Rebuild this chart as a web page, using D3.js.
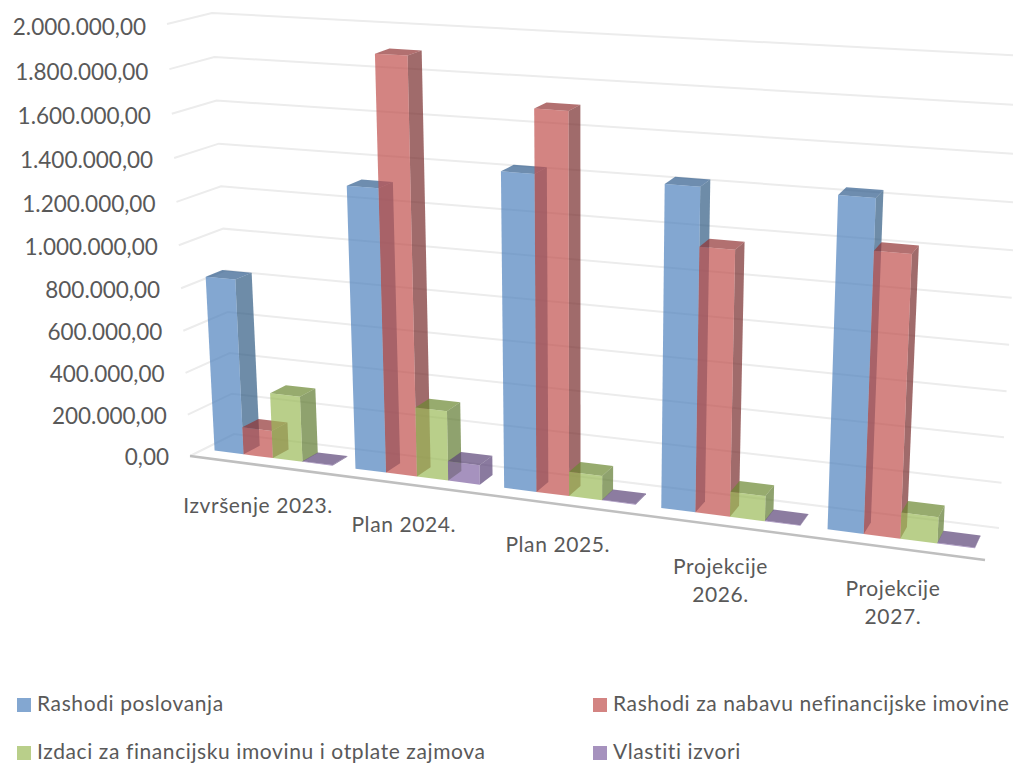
<!DOCTYPE html>
<html>
<head>
<meta charset="utf-8">
<script src="https://cdn.jsdelivr.net/npm/d3@7"></script>
<style>
  body { margin: 0; background: #fff; }
  svg { display: block; }
  text { font-family: Lato, "Open Sans", sans-serif; fill: #595959; }
</style>
</head>
<body>
<svg id="chart" width="1013" height="765"></svg>
<script>
var categories = [["Izvršenje 2023."], ["Plan 2024."], ["Plan 2025."], ["Projekcije", "2026."], ["Projekcije", "2027."]];
var seriesNames = ["Rashodi poslovanja", "Rashodi za nabavu nefinancijske imovine", "Izdaci za financijsku imovinu i otplate zajmova", "Vlastiti izvori"];

var rashodiPoslovanja = [834000, 1312000, 1430000, 1430000, 1440000];
var rashodiNefinancijske = [131000, 1905000, 1712000, 1174000, 1220000];
var izdaciFinancijska = [312000, 325000, 112000, 113000, 115000];
var vlastitiIzvori = [3000, 91000, 3000, 3000, 3000];
var seriesValues = [rashodiPoslovanja, rashodiNefinancijske, izdaciFinancijska, vlastitiIzvori];

var tickValues = [0, 200000, 400000, 600000, 800000, 1000000, 1200000, 1400000, 1600000, 1800000, 2000000];
var tickLabels = ["0,00", "200.000,00", "400.000,00", "600.000,00", "800.000,00", "1.000.000,00", "1.200.000,00", "1.400.000,00", "1.600.000,00", "1.800.000,00", "2.000.000,00"];

// front, side, top colours for each series, all drawn at 70% like the excel fill
var colors = [
  { front: "#4f81bd", side: "#315b83", top: "#315d8d" },
  { front: "#c0504d", side: "#772c2c", top: "#913333" },
  { front: "#9bbb59", side: "#5f7a31", top: "#6b8830" },
  { front: "#8064a2", side: "#594176", top: "#5b4477" }
];
var barOpacity = 0.7;

var svg = d3.select("#chart");

// corners of the 3d box as they land on the page
var box = {
  frontLeft: { bottom: [190, 456], top: [167, 24] },
  frontRight: { bottom: [985, 560], top: [1009, 74] },
  backLeft: { bottom: [234, 434], top: [212, 13] },
  backRight: { bottom: [999, 528], top: [1025, 56] }
};

var x = d3.scaleBand().domain(d3.range(categories.length)).range([0, 1]).paddingInner(0.16).paddingOuter(0.08);
var xSeries = d3.scaleBand().domain(d3.range(seriesNames.length)).range([0, x.bandwidth()]);
var depth = d3.scaleLinear().domain([0, 1]).range([0.31, 0.69]);
var y = d3.scaleLinear().domain([0, 2000000]).range([0, 1]);

var perspectiveX = 1.15;
var perspectiveY = 1.05;

function warp(t, k) {
  return t / (t + k * (1 - t));
}

function project(u, d, value) {
  var w = warp(u, perspectiveX);
  var v = warp(y(value), perspectiveY);
  function corner(c) { return d3.interpolate(c.bottom, c.top)(v); }
  var front = d3.interpolate(corner(box.frontLeft), corner(box.frontRight))(w);
  var back = d3.interpolate(corner(box.backLeft), corner(box.backRight))(w);
  return d3.interpolate(front, back)(d);
}

var line = d3.line();
function poly(points) { return line(points) + "Z"; }

// walls
var grid = svg.append("g");
tickValues.forEach(function(t) {
  grid.append("path")
    .attr("d", line([project(0, 0, t), project(0, 1, t), project(1, 1, t)]))
    .style("fill", "none")
    .style("stroke", "#ececec")
    .style("stroke-width", 2);
});

// floor edge
svg.append("path")
  .attr("d", line([project(0, 0, 0), project(1, 0, 0)]))
  .style("stroke", "#bfbfbf")
  .style("stroke-width", 2.5);

// tick labels
tickValues.forEach(function(t, i) {
  var p = project(0, 0, t);
  svg.append("text")
    .attr("x", p[0] - 21)
    .attr("y", p[1] + 3 + 2 * y(t))
    .attr("text-anchor", "end")
    .attr("dominant-baseline", "middle")
    .style("font-size", "22.5px")
    .text(tickLabels[i]);
});

// bars
var bars = svg.append("g").style("fill-opacity", barOpacity);
categories.forEach(function(c, ci) {
  seriesValues.forEach(function(values, si) {
    var u0 = x(ci) + xSeries(si);
    var u1 = u0 + xSeries.bandwidth();
    var d0 = depth(0), d1 = depth(1);
    var val = values[ci];
    var col = colors[si];

    bars.append("path")
      .attr("d", poly([project(u1, d0, 0), project(u1, d1, 0), project(u1, d1, val), project(u1, d0, val)]))
      .style("fill", col.side);
    bars.append("path")
      .attr("d", poly([project(u0, d0, val), project(u1, d0, val), project(u1, d1, val), project(u0, d1, val)]))
      .style("fill", col.top);
    bars.append("path")
      .attr("d", poly([project(u0, d0, 0), project(u1, d0, 0), project(u1, d0, val), project(u0, d0, val)]))
      .style("fill", col.front);
  });
});

// category labels
categories.forEach(function(c, ci) {
  var p = project(x(ci) + x.bandwidth() / 2, 0, 0);
  var label = svg.append("text")
    .attr("text-anchor", "middle")
    .style("font-size", "21px")
    .style("letter-spacing", "0.6px");
  c.forEach(function(part, i) {
    label.append("tspan")
      .attr("x", p[0] - 2)
      .attr("y", p[1] + 48 + i * 28)
      .text(part);
  });
});

// legend
var legendX = [17, 593, 17, 593];
var legendY = [705, 705, 753, 753];
seriesNames.forEach(function(name, i) {
  svg.append("rect")
    .attr("x", legendX[i])
    .attr("y", legendY[i] - 7)
    .attr("width", 14)
    .attr("height", 14)
    .style("fill", colors[i].front)
    .style("fill-opacity", barOpacity);
  svg.append("text")
    .attr("x", legendX[i] + 20)
    .attr("y", legendY[i] + 1)
    .attr("dominant-baseline", "middle")
    .style("font-size", "21px")
    .style("letter-spacing", "0.6px")
    .text(name);
});
</script>
</body>
</html>
